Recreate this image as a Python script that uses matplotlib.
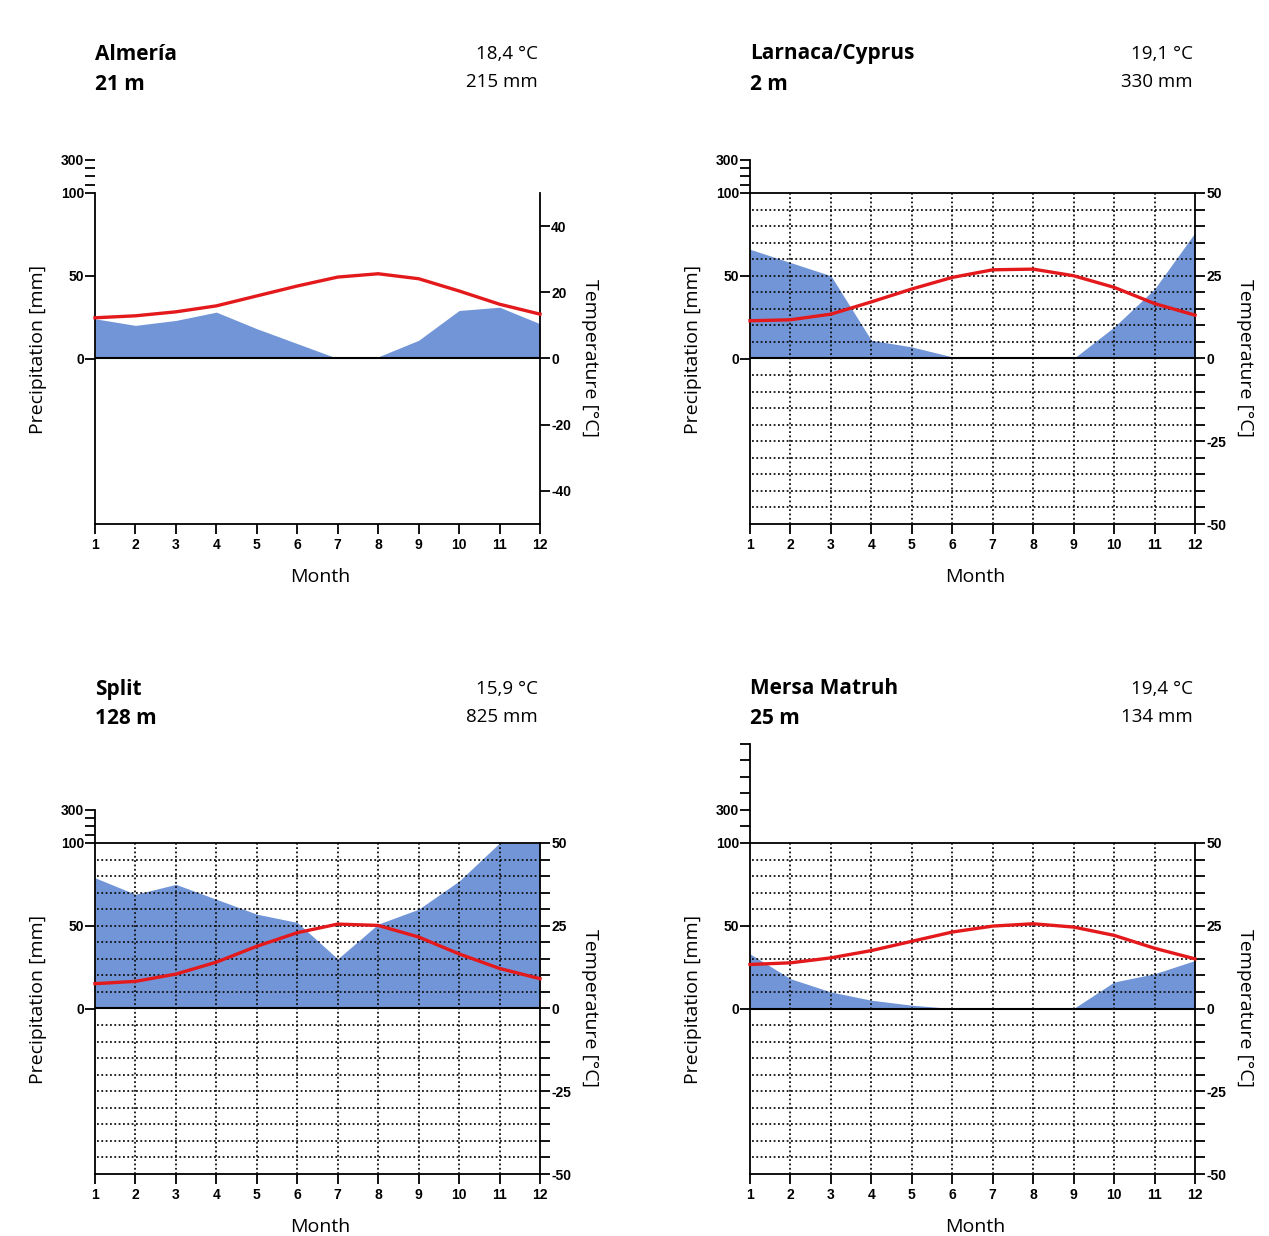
import numpy as np
import matplotlib
matplotlib.use("Agg")
import matplotlib.pyplot as plt

months = np.arange(1, 13)

stations = ["Almería", "Larnaca/Cyprus", "Split", "Mersa Matruh"]
elevations = ["21 m", "2 m", "128 m", "25 m"]
mean_temp_labels = ["18,4 °C", "19,1 °C", "15,9 °C", "19,4 °C"]
annual_prec_labels = ["215 mm", "330 mm", "825 mm", "134 mm"]

# monthly precipitation [mm]
prec_almeria = [24, 20, 23, 28, 18, 9, 0, 1, 11, 29, 31, 21]
prec_larnaca = [66, 58, 50, 11, 7, 1, 0, 0, 0, 19, 42, 76]
prec_split = [79, 69, 75, 66, 57, 52, 30, 51, 60, 77, 108, 101]
prec_mersa = [33, 18, 10, 5, 2, 0, 0, 0, 0, 16, 21, 29]

# monthly mean temperature [°C]
temp_almeria = [12.3, 12.9, 14.1, 15.9, 18.9, 21.9, 24.6, 25.6, 24.1, 20.4, 16.4, 13.4]
temp_larnaca = [11.4, 11.7, 13.4, 17.1, 21.0, 24.5, 26.8, 27.0, 25.0, 21.5, 16.6, 13.1]
temp_split = [7.5, 8.2, 10.4, 14.0, 18.8, 22.9, 25.5, 25.1, 21.6, 16.5, 12.1, 9.0]
temp_mersa = [13.3, 13.8, 15.3, 17.5, 20.3, 23.1, 24.9, 25.6, 24.6, 22.1, 18.2, 15.0]

precs = [prec_almeria, prec_larnaca, prec_split, prec_mersa]
temps = [temp_almeria, temp_larnaca, temp_split, temp_mersa]

FILL = "#7195D6"
RED = "#E3191C"
TXT = ["Open Sans", "DejaVu Sans"]
TICK = ["Liberation Sans", "DejaVu Sans"]

W, H = 1269, 1236
PX = 1.655  # pixels per mm (below 100 mm)
fig = plt.figure(figsize=(W / 100, H / 100), dpi=100)
fig.patch.set_facecolor("white")


def fx(x):
    return x / W


def fy(y):
    return 1 - y / H


# precipitation axis: linear up to 100 mm, compressed 1:10 above
def fwd(p):
    p = np.asarray(p, dtype=float)
    return np.where(p <= 100, p, 100 + (p - 100) / 10)


def inv(y):
    y = np.asarray(y, dtype=float)
    return np.where(y <= 100, y, 100 + (y - 100) * 10)


panels = [
    dict(x0=95, yb=524, top=300, grid=False, minor=[150, 200, 250], ty=0),
    dict(x0=750, yb=524, top=300, grid=True, minor=[150, 200, 250], ty=0),
    dict(x0=95, yb=1174, top=300, grid=True, minor=[150, 200, 250], ty=635),
    dict(x0=750, yb=1174, top=700, grid=True, minor=[200, 400, 500, 600, 700], ty=635),
]

for i, pc in enumerate(panels):
    x0, yb, top = pc["x0"], pc["yb"], pc["top"]
    top_t = float(fwd(top))
    h_px = (top_t + 100) * PX
    ax = fig.add_axes([fx(x0), fy(yb), 445 / W, h_px / H])
    ax.set_yscale("function", functions=(fwd, inv))
    ax.set_ylim(-100, top)
    ax.set_xlim(1, 12)
    ax.patch.set_visible(False)

    ax2 = ax.twinx()
    ax2.set_ylim(-50, top_t / 2)

    for s in ["top", "right"]:
        ax.spines[s].set_visible(False)
    for s in ["top", "left", "bottom"]:
        ax2.spines[s].set_visible(False)
    ax.spines["left"].set_bounds(-100, 100 if not pc["grid"] else top)
    ax2.spines["right"].set_bounds(-50, 50)
    for sp in [ax.spines["left"], ax.spines["bottom"], ax2.spines["right"]]:
        sp.set_linewidth(1.3)

    # precipitation area
    ax.fill_between(months, 0, np.minimum(precs[i], 100), color=FILL, lw=0, zorder=1)

    # grid
    if pc["grid"]:
        hl = [v for v in range(-45, 50, 5) if v != 0]
        ax2.hlines(hl, 1.06, 12, colors="#111111", linestyles=(0, (1, 1.4)), linewidth=1.3, zorder=2)
        ax2.vlines(months[1:-1], -50, 50, colors="#111111", linestyles=(0, (1, 1.4)), linewidth=1.3, zorder=2)
        ax2.hlines(50, 1, 12, colors="k", linewidth=1.3, zorder=3)
    ax2.hlines(0, 1, 12, colors="k", linewidth=1.5, zorder=3)

    # temperature curve
    ax2.plot(months, temps[i], color=RED, lw=2.4, zorder=4, clip_on=False)

    # ticks
    ax.set_xticks(months)
    ax.set_xticklabels([str(m) for m in months])
    ax.set_yticks([0, 50, 100, 300])
    ax.set_yticklabels(["0", "50", "100", "300"])
    ax.set_yticks(pc["minor"], minor=True)
    ax.yaxis.set_minor_formatter(plt.NullFormatter())
    if pc["grid"]:
        ax2.set_yticks([-50, -25, 0, 25, 50])
        ax2.set_yticklabels(["-50", "-25", "0", "25", "50"])
        ax2.set_yticks(np.arange(-45, 50, 5), minor=True)
    else:
        ax2.set_yticks([-40, -20, 0, 20, 40])
        ax2.set_yticklabels(["-40", "-20", "0", "20", "40"])
        ax2.set_yticks([], minor=True)
    ax2.yaxis.set_minor_formatter(plt.NullFormatter())

    ax.tick_params(axis="x", direction="out", length=7, width=1.3, pad=3, labelsize=10)
    ax.tick_params(axis="y", which="both", direction="out", length=7, width=1.3, pad=1, labelsize=10)
    ax2.tick_params(axis="y", which="both", direction="out", length=7, width=1.3, pad=1, labelsize=10)
    for lab in ax.get_xticklabels() + ax.get_yticklabels() + ax2.get_yticklabels():
        lab.set_fontweight("bold")
        lab.set_family(TICK)

    # header
    ty = pc["ty"]
    fig.text(fx(x0), fy(54 + ty), stations[i], fontsize=15, fontweight="bold",
             family=TXT, ha="left", va="center")
    fig.text(fx(x0), fy(84 + ty), elevations[i], fontsize=15, fontweight="bold",
             family=TXT, ha="left", va="center")
    fig.text(fx(x0 + 443), fy(54 + ty), mean_temp_labels[i], fontsize=13.5,
             family=TXT, ha="right", va="center")
    fig.text(fx(x0 + 443), fy(82 + ty), annual_prec_labels[i], fontsize=13.5,
             family=TXT, ha="right", va="center")

    # axis titles
    fig.text(fx(x0 + 225), fy(yb + 53), "Month", fontsize=14, family=TXT,
             ha="center", va="center")
    fig.text(fx(x0 - 57), fy(yb - 175), "Precipitation [mm]", fontsize=14, family=TXT,
             rotation=90, ha="center", va="center")
    fig.text(fx(x0 + 495), fy(yb - 166), "Temperature [°C]", fontsize=14, family=TXT,
             rotation=270, ha="center", va="center")

fig.savefig("out.png", dpi=100, facecolor="white")
